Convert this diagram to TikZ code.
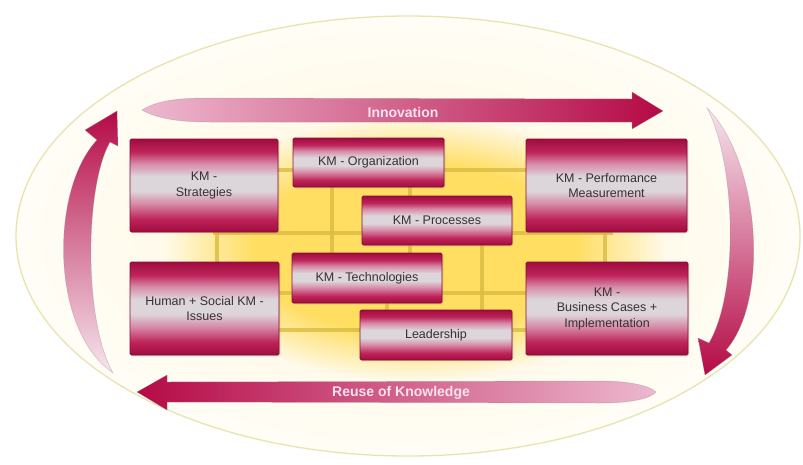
\documentclass[tikz,border=0pt]{standalone}
\usepackage{fontspec}
\setmainfont{Liberation Sans}
\usetikzlibrary{shadows,fadings}

\definecolor{crimD}{HTML}{A00C3F}
\definecolor{crimM}{HTML}{BE2459}
\definecolor{pinkL}{HTML}{D688A6}
\definecolor{grayL}{HTML}{DCD5D9}
\definecolor{crimB}{HTML}{8A0A34}
\definecolor{txt}{HTML}{363034}
\definecolor{gold}{HTML}{DCBE44}
\definecolor{glowY}{HTML}{FFDE62}
\definecolor{creamIn}{HTML}{FFF5D6}
\definecolor{creamOut}{HTML}{FFFDF6}
\definecolor{ellLine}{HTML}{E6E5AE}
\definecolor{arrDark}{HTML}{B50A46}
\definecolor{arrPale}{HTML}{EDB8CF}
\definecolor{arrWhite}{HTML}{F6E6EE}
\definecolor{lblTxt}{HTML}{F9E2EE}
\definecolor{edgeGray}{HTML}{9C8A92}

\pgfdeclareverticalshading{kmshade}{100bp}{color(0bp)=(crimD); color(25bp)=(crimD); color(32bp)=(crimM); color(40bp)=(pinkL); color(47bp)=(grayL); color(55bp)=(grayL); color(62bp)=(pinkL); color(68bp)=(crimM); color(75bp)=(crimD); color(100bp)=(crimD)}

\colorlet{pgftransparent}{black}
\pgfdeclareradialshading{glowshade}{\pgfpointorigin}{color(0bp)=(pgftransparent!0); color(16bp)=(pgftransparent!0); color(25bp)=(pgftransparent!100); color(50bp)=(pgftransparent!100)}
\pgfdeclarefading{glowfade}{\pgfuseshading{glowshade}}

\pgfdeclarelayer{back}
\pgfdeclarelayer{gridlayer}
\pgfsetlayers{back,gridlayer,main}

\tikzset{
  kmbox/.style={shading=kmshade, draw=crimB, line width=0.9pt, rounded corners=1.5pt,
    align=center, text=txt, font=\fontsize{12.5}{15.5}\selectfont, inner sep=2pt,
    drop shadow={shadow xshift=1.3pt, shadow yshift=-1.3pt, opacity=0.25}},
  gridline/.style={draw=gold, line width=4.5pt, opacity=0.85},
  bigarrow/.style={draw=edgeGray, draw opacity=0.45, line width=0.5pt},
  arrlabel/.style={text=lblTxt, font=\bfseries\fontsize{14}{16}\selectfont, inner sep=1pt}
}

\begin{document}
\begin{tikzpicture}[x=1pt, y=-1pt]
\useasboundingbox (0,0) rectangle (803,464);

% boxes
\node[kmbox, minimum width=148pt, minimum height=93pt] (strat) at (204,185.5) {KM -\\Strategies};
\node[kmbox, minimum width=151pt, minimum height=49pt] (org) at (368.5,162.5) {KM - Organization};
\node[kmbox, minimum width=161pt, minimum height=93pt] (perf) at (606.5,185.5) {KM - Performance\\Measurement};
\node[kmbox, minimum width=150pt, minimum height=49pt] (proc) at (437,220.5) {KM - Processes};
\node[kmbox, minimum width=149pt, minimum height=93pt] (hum) at (204.5,308.5) {Human + Social KM -\\Issues};
\node[kmbox, minimum width=150pt, minimum height=50pt] (tech) at (367,278) {KM - Technologies};
\node[kmbox, minimum width=152pt, minimum height=50pt] (lead) at (436,335) {Leadership};
\node[kmbox, minimum width=162pt, minimum height=93pt] (bus) at (607,308.5) {KM -\\Business Cases +\\Implementation};

% background ellipse and glow
\begin{pgfonlayer}{back}
  \fill[white] (0,0) rectangle (803,464);
  \shade[inner color=creamIn, outer color=creamOut] (408,236) ellipse [x radius=392pt, y radius=220pt];
  \draw[ellLine, line width=1.3pt] (408,236) ellipse [x radius=392pt, y radius=220pt];
  \fill[glowY, path fading=glowfade] (165,118) rectangle (665,380);
\end{pgfonlayer}

% grid lines
\coordinate (h1) at (0,170);
\coordinate (h2l) at (213,233);
\coordinate (h2r) at (613,233);
\coordinate (v1) at (217,0);
\coordinate (v2) at (605,0);
\coordinate (h3) at (0,293);
\coordinate (h4) at (0,330);
\coordinate (v3) at (332,0);
\coordinate (v4) at (410,0);
\coordinate (v5) at (387,0);
\coordinate (v6) at (482,0);
\begin{pgfonlayer}{gridlayer}
  \draw[gridline] (strat.east |- h1) -- (perf.west |- h1);
  \draw[gridline] (h2l) -- (h2r);
  \draw[gridline] (v1 |- h2l) -- (v1 |- hum.north);
  \draw[gridline] (v2 |- h2r) -- (v2 |- bus.north);
  \draw[gridline] (hum.east |- h3) -- (bus.west |- h3);
  \draw[gridline] (hum.east |- h4) -- (bus.west |- h4);
  \draw[gridline] (v3 |- org.south) -- (v3 |- tech.north);
  \draw[gridline] (v4 |- org.south) -- (v4 |- tech.north);
  \draw[gridline] (v5 |- tech.south) -- (v5 |- lead.north);
  \draw[gridline] (v6 |- proc.south) -- (v6 |- lead.north);
\end{pgfonlayer}

% Innovation arrow
\shade[bigarrow, left color=arrPale, right color=arrDark]
  (142,110) .. controls (158,100) and (180,98) .. (210,98) -- (632,99) -- (632,92) -- (663,111)
  -- (632,129) -- (632,122) -- (210,122) .. controls (180,122) and (158,119) .. cycle;
\node[arrlabel] (innov) at (403,112) {Innovation};

% Reuse of Knowledge arrow
\shade[bigarrow, left color=arrDark, right color=arrPale]
  (137,392) -- (167,375) -- (167,382) -- (600,381) .. controls (630,381) and (650,386) .. (656,392)
  .. controls (650,399) and (630,403) .. (600,403) -- (167,402) -- (167,410) -- cycle;
\node[arrlabel] (reuse) at (401,393) {Reuse of Knowledge};

% left curved arrow (upwards)
\shade[bigarrow, top color=arrDark, bottom color=arrWhite]
  (117,111) -- (118,146) -- (110,142) .. controls (85,185) and (83,320) .. (113,373)
  .. controls (50,330) and (50,190) .. (97,140) -- (85,130) -- cycle;

% right curved arrow (downwards)
\shade[bigarrow, top color=arrWhite, bottom color=arrDark]
  (707,108) .. controls (760,160) and (770,300) .. (726,350) -- (732,355) -- (705,375)
  -- (698,338) -- (709,343) .. controls (740,290) and (735,160) .. cycle;
\end{tikzpicture}
\end{document}
